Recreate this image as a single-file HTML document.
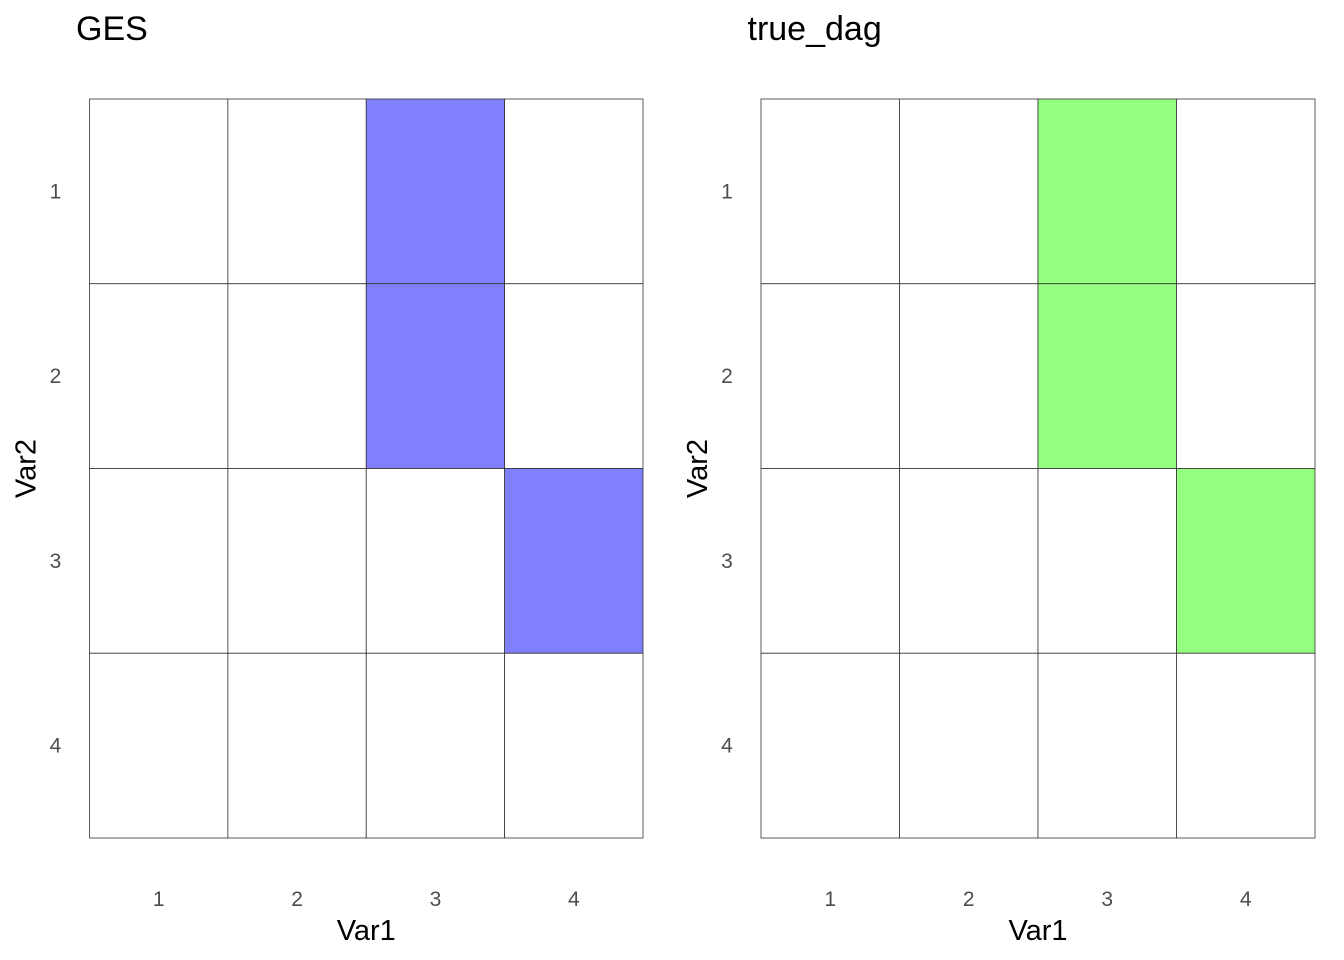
<!DOCTYPE html>
<html><head><meta charset="utf-8"><style>
body{margin:0;background:#fff;}
svg{display:block;font-family:"Liberation Sans",sans-serif;}
</style></head><body>
<svg id="chart" width="1344" height="960"></svg>
<script>
const vars = [1, 2, 3, 4];
const gesEdges = [[3,1],[3,2],[4,3]];      // [Var1, Var2]
const trueEdges = [[3,1],[3,2],[4,3]];
const panels = [
  {title:'GES', x0:89.5, x1:643, edges:gesEdges, fill:'#8080ff', name:'ges'},
  {title:'true_dag', x0:761, x1:1315, edges:trueEdges, fill:'#94ff80', name:'true-dag'}
];
const y0 = 99, y1 = 838;
const NS = 'http://www.w3.org/2000/svg';
const svg = document.getElementById('chart');
function mk(tag, attrs, parent, text){
  const e = document.createElementNS(NS, tag);
  for (const k in attrs) e.setAttribute(k, attrs[k]);
  if (text !== undefined) e.textContent = text;
  parent.appendChild(e); return e;
}
panels.forEach(p => {
  const g = mk('g', {}, svg);
  
  
  const cw = (p.x1 - p.x0) / vars.length, ch = (y1 - y0) / vars.length;
  const xs = v => p.x0 + (vars.indexOf(v)) * cw;
  const ys = v => y0 + (vars.indexOf(v)) * ch;
  vars.forEach(v1 => vars.forEach(v2 => {
    const on = p.edges.some(e => e[0] === v1 && e[1] === v2);
    const r = mk('rect', {x:xs(v1), y:ys(v2), width:cw, height:ch, fill:on?p.fill:'#fff', stroke:'#333', 'stroke-width':0.8}, g);
    
    
  }));
  const t = mk('text', {x:p.x0 - 13.5, y:40, 'font-size':34, fill:'#000'}, g, p.title);
  
  
  vars.forEach(v => {
    const tx = mk('text', {x:xs(v) + cw/2, y:906, 'font-size':21, fill:'#4d4d4d', 'text-anchor':'middle'}, g, String(v));
    
    
    const ty = mk('text', {x:p.x0 - 34, y:ys(v) + ch/2 + 7, 'font-size':21, fill:'#4d4d4d', 'text-anchor':'middle'}, g, String(v));
    
    
  });
  const xt = mk('text', {x:(p.x0 + p.x1)/2, y:940, 'font-size':29, fill:'#000', 'text-anchor':'middle'}, g, 'Var1');
  
  
  const yx = p.x0 - 54, yy = (y0 + y1)/2;
  const yt = mk('text', {x:yx, y:yy, 'font-size':29, fill:'#000', 'text-anchor':'middle', transform:`rotate(-90 ${yx} ${yy})`}, g, 'Var2');
  
  
});
</script>
</body></html>
